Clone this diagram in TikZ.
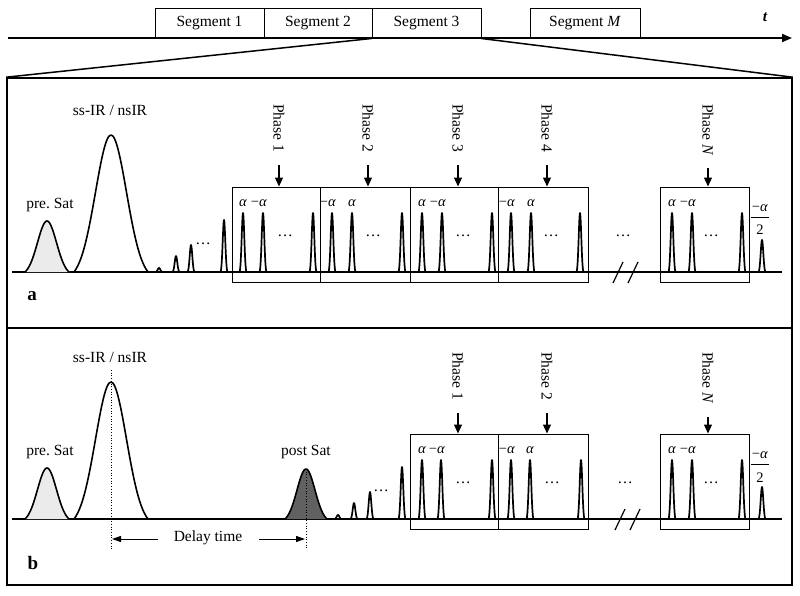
\documentclass[tikz,border=0pt]{standalone}
\usepackage{fontspec}
\setmainfont{Liberation Serif}
\usetikzlibrary{arrows.meta}
\frenchspacing
% #1 style, #2 centre x, #3 baseline y, #4 height, #5 sigma, #6 half width
\newcommand{\gaussbump}[6]{%
  \draw[#1] plot[domain=-#6:#6, samples=41, smooth]
    ({#2+\x},{#3-#4*(exp(-(\x)*(\x)/(2*#5*#5))-exp(-(#6*#6)/(2*#5*#5)))/(1-exp(-(#6*#6)/(2*#5*#5)))});}
\begin{document}
\begin{tikzpicture}[x=1pt,y=-1pt,
  txt/.style={inner sep=0pt, font=\fontsize{15.5}{18}\selectfont},
  lab/.style={inner sep=0pt, font=\fontsize{14.5}{16}\selectfont},
  panellab/.style={inner sep=0pt, font=\fontsize{19}{22}\selectfont\bfseries},
  phaselab/.style={inner sep=0pt, font=\fontsize{15.5}{18}\selectfont, rotate=-90, anchor=west},
  segbox/.style={draw, line width=1pt, minimum height=30pt, inner sep=0pt, font=\fontsize{15.5}{18}\selectfont},
  phbox/.style={draw, line width=1pt, minimum height=95pt, inner sep=0pt},
  panel/.style={draw, line width=1.6pt, inner sep=0pt},
  pulse/.style={line width=1.7pt, line join=round},
  gauss/.style={line width=1.6pt, line join=round},
  axisline/.style={line width=1.8pt, -{Triangle[length=10pt,width=8pt]}},
  phasearr/.style={line width=1.1pt, -{Triangle[length=9pt,width=8pt]}},
  darr/.style={line width=1pt, -{Triangle[length=9pt,width=6pt]}},
  baseline/.style={line width=1.3pt},
  zoomline/.style={line width=1.5pt},
  dots/.style={inner sep=0pt, font=\fontsize{15.5}{18}\selectfont},
  brk/.style={line width=1.2pt}
]
\useasboundingbox (0,0) rectangle (800,595);

% ---------- time axis with segments ----------
\coordinate (ax0) at (8,38);
\coordinate (ax1) at (792,38);
\draw[axisline] (ax0) -- (ax1);
\node[segbox, minimum width=109pt] (s1) at (209.5,23) {Segment 1};
\node[segbox, minimum width=108pt] (s2) at (318,23) {Segment 2};
\node[segbox, minimum width=109pt] (s3) at (426.5,23) {Segment 3};
\node[segbox, minimum width=110pt] (sM) at (585,23) {Segment \textit{M}};
\node[txt, font=\fontsize{15.5}{18}\selectfont\bfseries\itshape] (tlab) at (765,17) {t};

% ---------- panels ----------
\node[panel, minimum width=785pt, minimum height=250pt] (pa) at (399.5,203) {};
\node[panel, minimum width=785pt, minimum height=257pt] (pb) at (399.5,456.5) {};
\draw[zoomline] (s3.south west) -- (pa.north west);
\draw[zoomline] (s3.south east) -- (pa.north east);
\node[panellab] (la) at (32,296) {a};
\node[panellab] (lb) at (33,563) {b};

% ================= panel a =================
\coordinate (ba0) at (12,272);
\coordinate (ba1) at (782,272);
\draw[baseline] (ba0) -- (ba1);

\gaussbump{gauss, fill=black!8}{47}{272}{51}{9.5}{22}
\gaussbump{gauss}{111}{272}{137}{15.5}{37}
\node[txt] (preA) at (50,205) {pre. Sat};
\node[txt] (ssA) at (110,110) {ss-IR / nsIR};

\gaussbump{pulse}{159}{272}{4}{1.3}{3.4}
\gaussbump{pulse}{176}{272}{16}{1.3}{3.4}
\gaussbump{pulse}{191}{272}{27}{1.3}{3.4}
\gaussbump{pulse}{224}{272}{52}{1.3}{3.4}
\node[dots] (da0) at (203,244) {…};
\foreach \px in {243,263,313,332,352,402,422,442,492,511,531,580,672,692,742}
  {\gaussbump{pulse}{\px}{272}{59}{1.3}{3.4}}
\gaussbump{pulse}{762}{272}{32}{1.3}{3.4}

\node[phbox, minimum width=88pt] (a1) at (276,234.5) {};
\node[phbox, minimum width=90pt] (a2) at (365,234.5) {};
\node[phbox, minimum width=88pt] (a3) at (454,234.5) {};
\node[phbox, minimum width=90pt] (a4) at (543,234.5) {};
\node[phbox, minimum width=89pt] (aN) at (704.5,234.5) {};

\node[phaselab] (pha1) at (279,104) {Phase 1};
\node[phaselab] (pha2) at (368,104) {Phase 2};
\node[phaselab] (pha3) at (458,104) {Phase 3};
\node[phaselab] (pha4) at (547,104) {Phase 4};
\node[phaselab] (phaN) at (708,104) {Phase \textit{N}};
\foreach \p/\b in {pha1/a1,pha2/a2,pha3/a3,pha4/a4,phaN/aN}
  \draw[phasearr] ([yshift=-13pt]\p.east) -- (\p.east |- \b.north);

\node[lab] (aa1) at (243,203) {\textit{α}};
\node[lab] (aa2) at (259,203) {−\textit{α}};
\node[lab] (aa3) at (328,203) {−\textit{α}};
\node[lab] (aa4) at (352,203) {\textit{α}};
\node[lab] (aa5) at (422,203) {\textit{α}};
\node[lab] (aa6) at (438,203) {−\textit{α}};
\node[lab] (aa7) at (507,203) {−\textit{α}};
\node[lab] (aa8) at (531,203) {\textit{α}};
\node[lab] (aa9) at (672,203) {\textit{α}};
\node[lab] (aa10) at (688,203) {−\textit{α}};
\node[lab] (fa1) at (760,208) {−\textit{α}};
\coordinate (fal0) at (751,217);
\coordinate (fal1) at (769,217);
\draw[line width=0.8pt] (fal0) -- (fal1);
\node[lab] (fa2) at (760,230) {2};

\foreach \dx/\nm in {285/db1,373/db2,463/db3,551/db4,623/dmid,711/dbN}
  \node[dots] (a\nm) at (\dx,236) {…};

\coordinate (ka1) at (613,283); \coordinate (ka2) at (623,262);
\coordinate (ka3) at (628,283); \coordinate (ka4) at (638,262);
\draw[brk] (ka1) -- (ka2);
\draw[brk] (ka3) -- (ka4);

% ================= panel b =================
\coordinate (bb0) at (12,519);
\coordinate (bb1) at (782,519);
\draw[baseline] (bb0) -- (bb1);

\gaussbump{gauss, fill=black!8}{47}{519}{51}{9.5}{22}
\gaussbump{gauss}{111}{519}{137}{15.5}{37}
\gaussbump{gauss, fill=black!62}{306}{519}{50}{9}{21}
\node[txt] (preB) at (50,452) {pre. Sat};
\node[txt] (ssB) at (110,357) {ss-IR / nsIR};
\node[txt] (postB) at (306,452) {post Sat};

\coordinate (ssT) at (111,370); \coordinate (ssD) at (111,550);
\coordinate (psT) at (306,469); \coordinate (psD) at (306,550);
\draw[dotted, line width=0.7pt] (ssT) -- (ssD);
\draw[dotted, line width=0.7pt] (psT) -- (psD);
\node[txt] (delay) at (208,538) {Delay time};
\coordinate (dL) at (112,539);
\coordinate (dR) at (305,539);
\draw[darr] ([xshift=-16pt]delay.west |- dL) -- (dL);
\draw[darr] ([xshift=17pt]delay.east |- dR) -- (dR);

\gaussbump{pulse}{338}{519}{4}{1.3}{3.4}
\gaussbump{pulse}{354}{519}{16}{1.3}{3.4}
\gaussbump{pulse}{370}{519}{27}{1.3}{3.4}
\gaussbump{pulse}{402}{519}{52}{1.3}{3.4}
\node[dots] (db0) at (381,491) {…};
\foreach \px in {422,441,492,511,530,581,672,692,742}
  {\gaussbump{pulse}{\px}{519}{59}{1.3}{3.4}}
\gaussbump{pulse}{762}{519}{32}{1.3}{3.4}

\node[phbox, minimum width=88pt] (b1) at (454,481.5) {};
\node[phbox, minimum width=90pt] (b2) at (543,481.5) {};
\node[phbox, minimum width=89pt] (bN) at (704.5,481.5) {};

\node[phaselab] (phb1) at (458,352) {Phase 1};
\node[phaselab] (phb2) at (547,352) {Phase 2};
\node[phaselab] (phbN) at (708,352) {Phase \textit{N}};
\foreach \p/\b in {phb1/b1,phb2/b2,phbN/bN}
  \draw[phasearr] ([yshift=-13pt]\p.east) -- (\p.east |- \b.north);

\node[lab] (ba1l) at (422,450) {\textit{α}};
\node[lab] (ba2l) at (437,450) {−\textit{α}};
\node[lab] (ba3l) at (507,450) {−\textit{α}};
\node[lab] (ba4l) at (530,450) {\textit{α}};
\node[lab] (ba5l) at (672,450) {\textit{α}};
\node[lab] (ba6l) at (688,450) {−\textit{α}};
\node[lab] (fb1) at (760,455) {−\textit{α}};
\coordinate (fbl0) at (751,464);
\coordinate (fbl1) at (769,464);
\draw[line width=0.8pt] (fbl0) -- (fbl1);
\node[lab] (fb2) at (760,478) {2};

\foreach \dx/\nm in {463/db1,552/db2,625/dmid,711/dbN}
  \node[dots] (b\nm) at (\dx,483) {…};

\coordinate (kb1) at (615,530); \coordinate (kb2) at (625,509);
\coordinate (kb3) at (630,530); \coordinate (kb4) at (640,509);
\draw[brk] (kb1) -- (kb2);
\draw[brk] (kb3) -- (kb4);
\end{tikzpicture}
\end{document}
